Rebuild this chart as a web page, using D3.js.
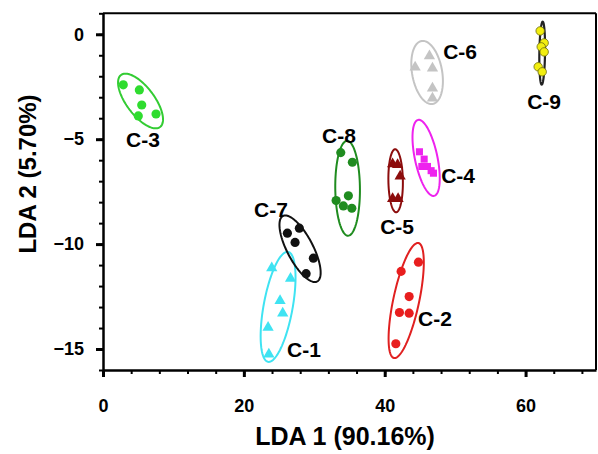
<!DOCTYPE html>
<html>
<head>
<meta charset="utf-8">
<script src="https://cdn.jsdelivr.net/npm/d3@7"></script>
<style>
  html, body { margin: 0; padding: 0; background: #fff; }
  svg { display: block; }
  text { font-family: "Liberation Sans", Arial, sans-serif; font-weight: bold; fill: #000; }
</style>
</head>
<body>
<svg id="chart" width="598" height="454"></svg>
<script>
// ---------------- data ----------------
const groups = ["C-1", "C-2", "C-3", "C-4", "C-5", "C-6", "C-7", "C-8", "C-9"];
const markers = ["triangle", "circle", "circle", "square", "triangle", "triangle", "circle", "circle", "circle"];
const colors = ["#3fe3f2", "#e81e1e", "#2fdc2f", "#ee22ee", "#8c0c0c", "#c4c4c4", "#111111", "#1f8c1f", "#f2ee10"];
const ellipseColors = ["#3fe3f2", "#e02020", "#33cc33", "#ee22ee", "#8c0c0c", "#c4c4c4", "#111111", "#1f8c1f", "#222222"];

// LDA scores (LDA 1, LDA 2) per group
const scoresC1 = [[23.96, -11.14], [26.63, -11.64], [25.14, -12.70], [25.52, -13.29], [23.44, -13.98], [23.55, -15.25]];
const scoresC2 = [[42.33, -11.30], [44.79, -10.86], [43.47, -12.50], [42.09, -13.26], [43.47, -13.29], [41.58, -14.75]];
const scoresC3 = [[2.88, -2.41], [5.16, -2.65], [5.50, -3.37], [5.01, -3.89], [7.53, -3.80]];
const scoresC4 = [[44.93, -5.60], [45.60, -5.95], [45.27, -6.30], [46.07, -6.30], [46.59, -6.50], [46.92, -6.62]];
const scoresC5 = [[41.12, -6.18], [41.83, -6.22], [42.19, -6.77], [41.12, -7.84], [41.90, -7.84]];
const scoresC6 = [[46.35, -1.03], [46.78, -1.62], [44.32, -1.57], [46.78, -2.57], [46.78, -3.05]];
const scoresC7 = [[26.18, -9.48], [27.88, -9.24], [27.27, -9.92], [29.87, -10.67], [28.84, -11.41]];
const scoresC8 = [[33.76, -5.64], [35.41, -6.10], [34.84, -7.70], [33.10, -7.92], [34.13, -8.18], [35.33, -8.29]];
const scoresC9 = [[62.07, 0.16], [62.64, -0.41], [62.22, -0.60], [62.64, -0.84], [61.79, -1.55], [62.36, -1.79]];
const scores = [scoresC1, scoresC2, scoresC3, scoresC4, scoresC5, scoresC6, scoresC7, scoresC8, scoresC9];

// confidence ellipses: centre (LDA1, LDA2), end of major axis (LDA1, LDA2), minor/major ratio
const ellipseCentre = [[24.86, -12.99], [43.05, -12.69], [5.33, -3.18], [45.88, -5.89], [41.55, -6.98], [46.02, -1.82], [27.98, -10.22], [34.73, -7.34], [62.36, -0.90]];
const ellipseTip = [[26.28, -10.37], [44.79, -9.95], [2.56, -1.94], [44.74, -4.08], [41.48, -5.48], [45.23, -0.32], [25.55, -8.66], [34.66, -5.08], [62.43, 0.60]];
const ellipseRatio = [0.26, 0.22, 0.43, 0.29, 0.23, 0.47, 0.35, 0.26, 0.09];

// group label anchors (LDA1, LDA2)
const labelPos = [[26.14, -15.01], [44.74, -13.53], [3.27, -4.99], [48.01, -6.75], [39.35, -9.18], [48.30, -0.82], [21.45, -8.37], [31.11, -4.80], [60.23, -3.22]];

// axes
const xDomain = [0, 70];
const yDomain = [-16, 1];
const xMajorTicks = [0, 20, 40, 60];
const xMinorTicks = d3.range(0, 70, 4);
const yMajorTicks = [0, -5, -10, -15];
const yMinorTicks = d3.range(-16, 2, 1);
const xTitle = "LDA 1 (90.16%)";
const yTitle = "LDA 2 (5.70%)";

// ---------------- drawing ----------------
const svg = d3.select("#chart");
const x = d3.scaleLinear().domain(xDomain).range([103, 596]);
const y = d3.scaleLinear().domain(yDomain).range([370, 13.3]);

// frame (top & right)
svg.append("line").attr("x1", x(xDomain[0])).attr("x2", x(xDomain[1])).attr("y1", y(yDomain[1])).attr("y2", y(yDomain[1]))
  .attr("stroke", "#000").attr("stroke-width", 2);
svg.append("line").attr("x1", x(xDomain[1])).attr("x2", x(xDomain[1])).attr("y1", y(yDomain[1])).attr("y2", y(yDomain[0]))
  .attr("stroke", "#000").attr("stroke-width", 2);

// ellipses
const line = d3.line().curve(d3.curveLinearClosed);
groups.forEach((g, i) => {
  const cx = x(ellipseCentre[i][0]), cy = y(ellipseCentre[i][1]);
  const ux = x(ellipseTip[i][0]) - cx, uy = y(ellipseTip[i][1]) - cy;
  const vx = -uy * ellipseRatio[i], vy = ux * ellipseRatio[i];
  const pts = d3.range(0, 2 * Math.PI, Math.PI / 60).map(t =>
    [cx + ux * Math.cos(t) + vx * Math.sin(t), cy + uy * Math.cos(t) + vy * Math.sin(t)]);
  svg.append("path").attr("d", line(pts)).attr("fill", "none")
    .attr("stroke", ellipseColors[i]).attr("stroke-width", i === 8 ? 2.2 : 2);
});

// points
const sym = { triangle: d3.symbolTriangle, circle: d3.symbolCircle, square: d3.symbolSquare };
const symSize = { triangle: 55, circle: 66, square: 50 };
groups.forEach((g, i) => {
  const m = markers[i];
  svg.append("g").selectAll("path").data(scores[i]).join("path")
    .attr("transform", d => `translate(${x(d[0])},${y(d[1])})`)
    .attr("d", d3.symbol().type(sym[m]).size(i === 8 ? 56 : symSize[m]))
    .attr("fill", colors[i])
    .attr("stroke", i === 8 ? "#6a6a10" : "none")
    .attr("stroke-width", 0.8);
});

// labels
svg.append("g").selectAll("text").data(groups).join("text")
  .attr("x", (d, i) => x(labelPos[i][0]))
  .attr("y", (d, i) => y(labelPos[i][1]))
  .attr("dy", "0.36em")
  .attr("font-size", 21)
  .text(d => d);

// axes
const xAxisY = y(yDomain[0]);
const gx = svg.append("g").attr("transform", `translate(0,${xAxisY})`);
gx.call(d3.axisBottom(x).tickValues(xMinorTicks).tickSize(4).tickSizeOuter(0).tickFormat(""))
  .call(g => g.selectAll(".tick line").attr("stroke-width", 2));
const gx2 = svg.append("g").attr("transform", `translate(0,${xAxisY})`);
gx2.call(d3.axisBottom(x).tickValues(xMajorTicks).tickSize(7).tickPadding(22).tickFormat(d3.format("d")))
  .call(g => g.select(".domain").remove())
  .call(g => g.selectAll(".tick line").attr("stroke-width", 3))
  .call(g => g.selectAll(".tick text").attr("font-size", 18).attr("font-family", "Liberation Sans, Arial, sans-serif").attr("font-weight", "bold"));
gx.select(".domain").attr("stroke-width", 2.5);

const yAxisX = x(xDomain[0]);
const gy = svg.append("g").attr("transform", `translate(${yAxisX},0)`);
gy.call(d3.axisLeft(y).tickValues(yMinorTicks).tickSize(4).tickSizeOuter(0).tickFormat(""))
  .call(g => g.selectAll(".tick line").attr("stroke-width", 2));
const gy2 = svg.append("g").attr("transform", `translate(${yAxisX},0)`);
gy2.call(d3.axisLeft(y).tickValues(yMajorTicks).tickSize(7).tickPadding(12).tickFormat(d3.format("d")))
  .call(g => g.select(".domain").remove())
  .call(g => g.selectAll(".tick line").attr("stroke-width", 3))
  .call(g => g.selectAll(".tick text").attr("font-size", 18).attr("font-family", "Liberation Sans, Arial, sans-serif").attr("font-weight", "bold"));
gy.select(".domain").attr("stroke-width", 2.5);

// axis titles
svg.append("text").attr("x", 345).attr("y", 445).attr("text-anchor", "middle").attr("font-size", 25).text(xTitle);
svg.append("text").attr("transform", "translate(36,174) rotate(-90)").attr("text-anchor", "middle").attr("font-size", 24).text(yTitle);
</script>
</body>
</html>
